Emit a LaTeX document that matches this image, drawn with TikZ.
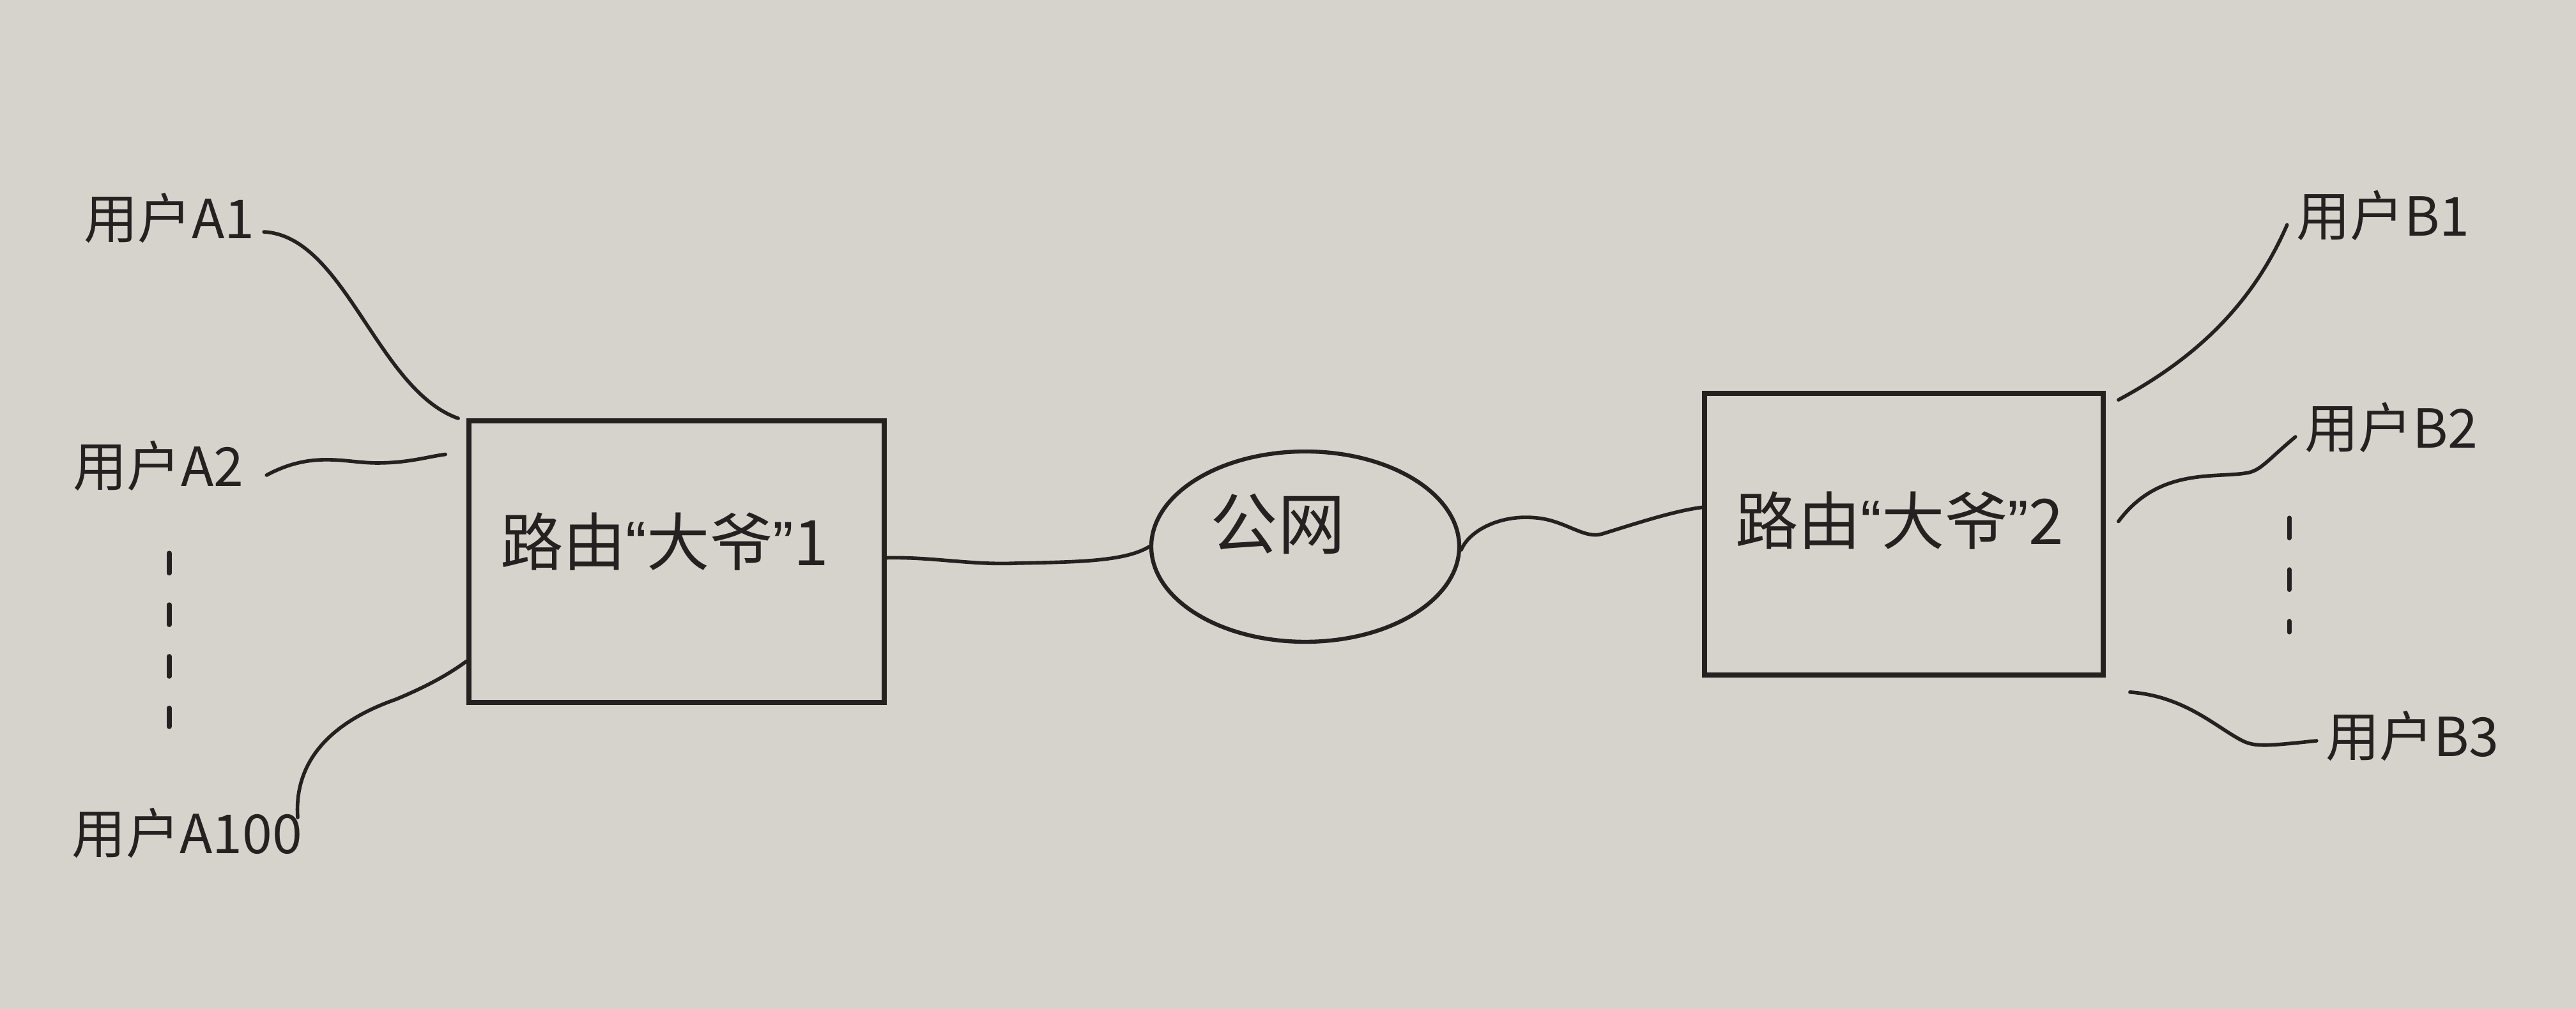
\documentclass[tikz,border=0pt]{standalone}
\usepackage{fontspec}
\setmainfont{Noto Sans CJK SC}
\newfontfamily\latinq{Liberation Sans}
\usetikzlibrary{shapes.geometric,calc}
\definecolor{paper}{RGB}{214,211,204}
\definecolor{ink}{RGB}{38,33,33}
\newcommand{\myLQ}{{\latinq “}}
\newcommand{\myRQ}{{\latinq ”}}
\begin{document}
\begin{tikzpicture}[
  x=1cm,y=1cm,
  wire/.style={draw=ink,line width=1.6pt,line cap=round},
  router/.style={draw=ink,line width=2.2pt,rectangle,inner sep=0pt},
  lbl/.style={text=ink,font=\fontsize{24}{28}\selectfont,inner sep=2pt},
  rtxt/.style={text=ink,font=\fontsize{28}{32}\selectfont,inner sep=0pt},
  cloud/.style={draw=ink,line width=1.8pt,ellipse,inner sep=0pt},
  dots/.style={draw=ink,line width=2pt,dash pattern=on 9pt off 14pt,line cap=round}
]
\fill[paper] (0,0) rectangle (40.32,15.80);
\useasboundingbox (0,0) rectangle (40.32,15.80);

% routers and cloud
\node[router,minimum width=6.50cm,minimum height=4.41cm] (r1) at (10.59,7.005) {};
\node[rtxt] (t1) at (10.40,7.32) {路由\myLQ 大爷\myRQ 1};
\node[router,minimum width=6.24cm,minimum height=4.41cm] (r2) at (29.80,7.435) {};
\node[rtxt] (t2) at (29.73,7.65) {路由\myLQ 大爷\myRQ 2};
\node[cloud,minimum width=4.82cm,minimum height=2.98cm] (net) at (20.43,7.24) {};
\node[text=ink,font=\fontsize{30}{34}\selectfont] (nettxt) at (20.00,7.60) {公网};

% users
\node[lbl] (a1) at (2.65,12.38) {用户A1};
\node[lbl] (a2) at (2.48,8.50) {用户A2};
\node[lbl] (a100) at (2.93,2.75) {用户A100};
\node[lbl] (b1) at (37.30,12.42) {用户B1};
\node[lbl] (b2) at (37.43,9.10) {用户B2};
\node[lbl] (b3) at (37.76,4.27) {用户B3};

% ellipsis dots
\coordinate (da1) at (2.65,7.14);
\coordinate (da2) at (2.65,4.42);
\coordinate (db1) at (35.83,7.69);
\coordinate (db2) at (35.83,5.90);
\draw[dots] (da1) -- (da2);
\draw[dots] (db1) -- (db2);

% connectors left
\draw[wire] ([xshift=2pt,yshift=-6pt]a1.east) .. controls (5.4,12.1) and (5.9,9.7) .. ([xshift=-0.13cm]r1.north west);
\draw[wire] ([xshift=8pt,yshift=-4pt]a2.east) .. controls (4.9,8.75) and (5.4,8.55) .. (5.9,8.55)
  .. controls (6.4,8.55) and (6.7,8.65) .. ([xshift=-0.33cm,yshift=1.68cm]r1.west);
\draw[wire] ([xshift=-0.15cm,yshift=0.25cm]a100.east) .. controls (4.6,3.9) and (5.2,4.5) .. (6.2,4.85)
  .. controls (6.8,5.1) and (7.1,5.3) .. ([yshift=-1.56cm]r1.west);

% router1 -- cloud -- router2
\draw[wire] ([yshift=0.06cm]r1.east) .. controls (14.6,7.08) and (15.2,6.95) .. (15.9,6.98)
  .. controls (16.8,7.0) and (17.6,7.0) .. (net.west);
\draw[wire] ([yshift=-0.05cm]net.east) .. controls (23.0,7.5) and (23.5,7.75) .. (24.05,7.69)
  .. controls (24.5,7.65) and (24.8,7.35) .. (25.08,7.44)
  .. controls (25.6,7.6) and (26.2,7.8) .. ([yshift=0.42cm]r2.west);

% connectors right
\draw[wire] ([xshift=0.2cm,yshift=-0.14cm]r2.north east) .. controls (34.2,10.1) and (35.2,10.9) .. ([xshift=-2pt,yshift=-4pt]b1.west);
\draw[wire] ([xshift=0.2cm,yshift=0.2cm]r2.east) .. controls (33.8,8.5) and (34.7,8.3) .. (35.2,8.4)
  .. controls (35.4,8.45) and (35.5,8.6) .. ([xshift=-2pt,yshift=-4pt]b2.west);
\draw[wire] ([xshift=0.38cm,yshift=-0.23cm]r2.south east) .. controls (34.2,4.9) and (34.7,4.4) .. (35.1,4.2)
  .. controls (35.3,4.1) and (35.5,4.12) .. ([xshift=-2pt,yshift=-2pt]b3.west);
\end{tikzpicture}
\end{document}
